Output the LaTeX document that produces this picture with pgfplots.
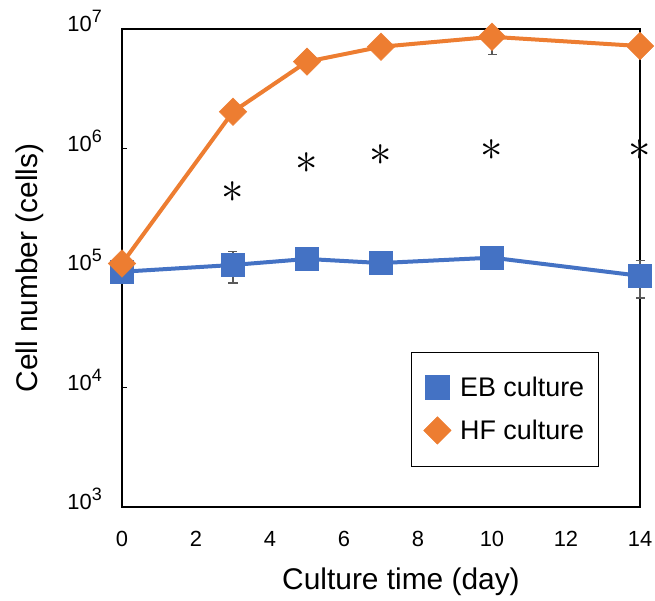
\documentclass[border=0pt]{standalone}
\usepackage{fontspec}
\setmainfont{Liberation Sans}
\usepackage{graphicx}
\usepackage{pgfplots}
\pgfplotsset{compat=1.18}
\definecolor{ebblue}{HTML}{4472C4}
\definecolor{hforange}{HTML}{ED7D31}
\newcommand{\tp}[1]{10\raisebox{0.42em}{\fontsize{18}{18}\selectfont #1}}
\begin{document}
\begin{tikzpicture}
\begin{axis}[
  at={(0,0)}, anchor=south west,
  scale only axis, width=518bp, height=478bp,
  xmin=0, xmax=14, ymode=log, ymin=1e3, ymax=1e7,
  /pgf/number format/assume math mode=true,
  xtick={0,2,4,6,8,10,12,14},
  xtick pos=bottom, xtick style={draw=none},
  xticklabel style={font=\fontsize{22}{22}\selectfont, anchor=base, inner sep=0pt, yshift=-40bp},
  ytick={1e3,1e4,1e5,1e6,1e7},
  yticklabels={\tp{3},\tp{4},\tp{5},\tp{6},\tp{7}},
  yminorticks=false,
  ytick pos=left, tick align=inside, major tick length=5bp,
  yticklabel style={font=\fontsize{22}{22}\selectfont, anchor=base east, inner sep=0pt, xshift=-20bp, yshift=-3bp},
  axis line style={line width=1.3bp, black},
  tick style={line width=1.3bp, black},
  xlabel={Culture time (day)},
  ylabel={Cell number (cells)},
  every axis x label/.style={at={(axis description cs:0.5,0)}, anchor=center, yshift=-75bp, xshift=20bp, font=\fontsize{30}{30}\selectfont},
  every axis y label/.style={at={(axis description cs:-0.178,0.5)}, anchor=center, rotate=90, font=\fontsize{30}{30}\selectfont},
  clip=false,
  legend style={at={(0.558,0.324)}, anchor=north west, draw=black, line width=1.3bp,
    font=\fontsize{27}{27}\selectfont, inner xsep=12bp, inner ysep=22bp, row sep=17bp},
  legend image post style={xshift=-6bp},
  legend cell align=left,
]
% error bars (behind markers)
\addplot[forget plot, only marks, mark=none,
  error bars/.cd, y dir=both, y explicit,
  error bar style={line width=1.2bp, draw=black!65},
  error mark options={rotate=90, mark size=4.5bp, line width=1.2bp, draw=black!65}]
  coordinates {(3,1.06e5) +- (0,3.1e4) (14,8.6e4) +- (0,3.0e4)};
\addplot[forget plot, only marks, mark=none,
  error bars/.cd, y dir=minus, y explicit,
  error bar style={line width=1.2bp, draw=black!65},
  error mark options={rotate=90, mark size=4.5bp, line width=1.2bp, draw=black!65}]
  coordinates {(10,8.6e6) -= (0,2.5e6)};
% EB culture
\addplot[forget plot, color=ebblue, line width=4bp, mark=square*,
  mark options={line width=0.5bp, fill=ebblue}, mark size=11.7bp]
  coordinates {(0,9.3e4) (3,1.06e5) (5,1.19e5) (7,1.10e5) (10,1.22e5) (14,8.6e4)};
% HF culture
\addplot[forget plot, color=hforange, line width=4bp, mark=square*,
  mark options={line width=0.5bp, fill=hforange, rotate=45}, mark size=9.7bp]
  coordinates {(0,1.09e5) (3,2.03e6) (5,5.33e6) (7,7.1e6) (10,8.6e6) (14,7.2e6)};
% significance asterisks
\addplot[forget plot, only marks, mark=text, text mark as node=true,
  text mark style={anchor=center, inner sep=0pt},
  text mark={\scalebox{4.5}{\fontsize{10}{10}\selectfont$\ast$}}, black]
  coordinates {(3,4.35e5) (5,7.6e5) (7,8.8e5) (10,9.7e5) (14,9.7e5)};
\addlegendimage{only marks, mark=square*, color=ebblue, mark options={line width=0.5bp, fill=ebblue}, mark size=11.7bp}
\addlegendentry{\hspace{7bp}EB culture}
\addlegendimage{only marks, mark=square*, color=hforange, mark options={line width=0.5bp, fill=hforange, rotate=45}, mark size=9.7bp}
\addlegendentry{\hspace{7bp}HF culture}
\end{axis}
\pgfresetboundingbox
\useasboundingbox (-122bp,-94bp) rectangle (533bp,507bp);
\end{tikzpicture}
\end{document}
